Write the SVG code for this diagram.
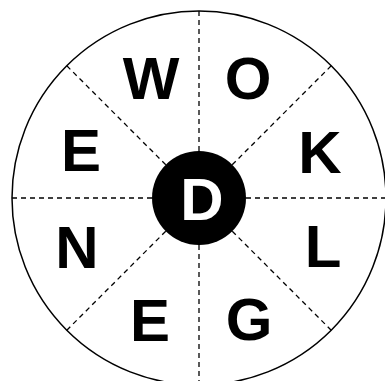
<svg xmlns="http://www.w3.org/2000/svg" width="385" height="381" viewBox="0 0 385 381">
<style>
.ring{fill:#fff;stroke:#000;stroke-width:1.5}
.div{stroke:#000;stroke-width:1.3;stroke-dasharray:5 4;fill:none}
.l{font-family:"Liberation Sans",Arial,sans-serif;font-weight:bold;font-size:60px;fill:#000;text-anchor:middle}
.c{font-family:"Liberation Sans",Arial,sans-serif;font-weight:bold;font-size:60px;fill:#fff;text-anchor:middle}
</style>
<rect width="385" height="381" fill="#fff"/>
<circle id="wheel" class="ring" cx="199" cy="198" r="187"/>
<g id="connectors">
<line class="div" x1="199" y1="11" x2="199" y2="385"/>
<line class="div" x1="12" y1="198" x2="386" y2="198"/>
<line class="div" x1="66.8" y1="65.8" x2="331.2" y2="330.2"/>
<line class="div" x1="331.2" y1="65.8" x2="66.8" y2="330.2"/>
</g>
<g id="center"><circle cx="199" cy="198" r="47" fill="#000"/><text class="c" x="202" y="220">D</text></g>
<g id="n-W"><text class="l" x="151" y="99">W</text></g>
<g id="n-O"><text class="l" x="248" y="99">O</text></g>
<g id="n-K"><text class="l" x="320" y="173">K</text></g>
<g id="n-L"><text class="l" x="323" y="267">L</text></g>
<g id="n-G"><text class="l" x="249" y="340">G</text></g>
<g id="n-E2"><text class="l" x="150" y="341">E</text></g>
<g id="n-N"><text class="l" x="77" y="268">N</text></g>
<g id="n-E1"><text class="l" x="81" y="171">E</text></g>
</svg>
